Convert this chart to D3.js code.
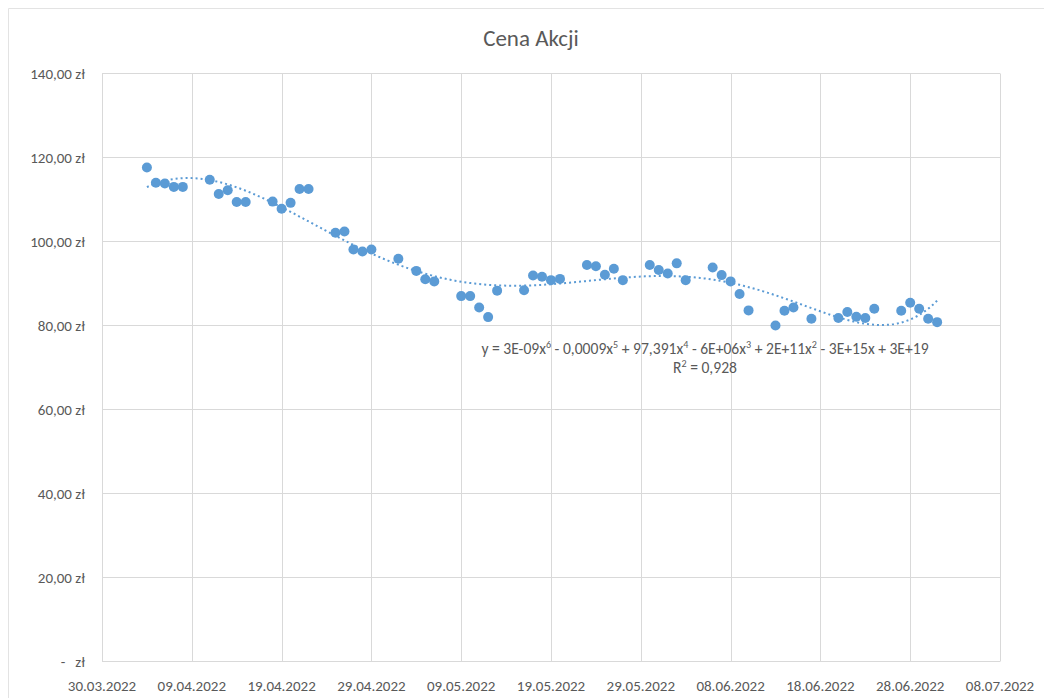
<!DOCTYPE html>
<html>
<head>
<meta charset="utf-8">
<script src="https://cdn.jsdelivr.net/npm/d3@7"></script>
<style>
  html, body { margin: 0; padding: 0; background: #fff; }
  svg { display: block; }
  text { font-family: Carlito, Calibri, Lato, "Open Sans", sans-serif; fill: #595959; }
</style>
</head>
<body>
<svg id="chart" width="1044" height="698"></svg>
<script>
// ---- data ----
const dates = [
  "2022-04-04","2022-04-05","2022-04-06","2022-04-07","2022-04-08",
  "2022-04-11","2022-04-12","2022-04-13","2022-04-14","2022-04-15",
  "2022-04-18","2022-04-19","2022-04-20","2022-04-21","2022-04-22",
  "2022-04-25","2022-04-26","2022-04-27","2022-04-28","2022-04-29",
  "2022-05-02","2022-05-04","2022-05-05","2022-05-06",
  "2022-05-09","2022-05-10","2022-05-11","2022-05-12","2022-05-13",
  "2022-05-16","2022-05-17","2022-05-18","2022-05-19","2022-05-20",
  "2022-05-23","2022-05-24","2022-05-25","2022-05-26","2022-05-27",
  "2022-05-30","2022-05-31","2022-06-01","2022-06-02","2022-06-03",
  "2022-06-06","2022-06-07","2022-06-08","2022-06-09","2022-06-10",
  "2022-06-13","2022-06-14","2022-06-15","2022-06-17",
  "2022-06-20","2022-06-21","2022-06-22","2022-06-23","2022-06-24",
  "2022-06-27","2022-06-28","2022-06-29","2022-06-30","2022-07-01"
];
const prices = [
  117.6,114.0,113.8,113.0,113.0,
  114.7,111.3,112.2,109.4,109.4,
  109.5,107.8,109.2,112.5,112.5,
  102.1,102.4,98.1,97.6,98.1,
  95.9,93.0,91.0,90.5,
  87.0,87.0,84.3,82.0,88.3,
  88.4,91.9,91.6,90.8,91.1,
  94.4,94.1,92.1,93.5,90.8,
  94.4,93.2,92.4,94.8,90.8,
  93.8,92.0,90.5,87.5,83.6,
  80.0,83.5,84.3,81.6,
  81.8,83.2,82.1,81.8,84.0,
  83.5,85.4,84.0,81.6,80.8
];
const xTickLabels = ["30.03.2022","09.04.2022","19.04.2022","29.04.2022","09.05.2022","19.05.2022","29.05.2022","08.06.2022","18.06.2022","28.06.2022","08.07.2022"];
const yTicks = [0,20,40,60,80,100,120,140];
const titleText = "Cena Akcji";
const eqParts = [["y = 3E-09x",""],["6","s"],[" - 0,0009x",""],["5","s"],[" + 97,391x",""],["4","s"],[" - 6E+06x",""],["3","s"],[" + 2E+11x",""],["2","s"],[" - 3E+15x + 3E+19",""]];
const r2Parts = [["R",""],["2","s"],[" = 0,928",""]];

// ---- setup ----
const svg = d3.select("#chart");
const parse = d3.utcParse("%Y-%m-%d");
const parseTick = d3.utcParse("%d.%m.%Y");
const data = dates.map((d,i) => ({date: parse(d), v: prices[i]}));
const tickDates = xTickLabels.map(parseTick);

const x = d3.scaleUtc().domain([tickDates[0], tickDates[tickDates.length-1]]).range([102, 1000]);
const y = d3.scaleLinear().domain([0, 140]).range([661.5, 73.5]);

const LBL = 15;

// outer frame (sheet border)
svg.append("line").attr("x1", 8.5).attr("x2", 8.5).attr("y1", 8.5).attr("y2", 698).attr("stroke", "#e3e3e3");
svg.append("line").attr("x1", 8.5).attr("x2", 1044).attr("y1", 8.5).attr("y2", 8.5).attr("stroke", "#e3e3e3");

// gridlines
const grid = svg.append("g");
grid.selectAll("line.h").data(yTicks).join("line")
  .attr("x1", x.range()[0]).attr("x2", x.range()[1])
  .attr("y1", d => y(d)).attr("y2", d => y(d))
  .attr("stroke", "#d9d9d9").attr("stroke-width", 1);
grid.selectAll("line.v").data(tickDates).join("line")
  .attr("x1", d => Math.round(x(d)) + 0.5).attr("x2", d => Math.round(x(d)) + 0.5)
  .attr("y1", y(0)).attr("y2", y(140))
  .attr("stroke", "#d9d9d9").attr("stroke-width", 1);

// y labels
const fmt = v => d3.format(".2f")(v).replace(".", ",") + " zł";
const yl = svg.append("g");
yTicks.forEach(v => {
  if (v === 0) {
    yl.append("text").attr("x", 63).attr("y", y(0) + 5).attr("text-anchor", "middle").attr("font-size", LBL).text("-");
    yl.append("text").attr("x", 85).attr("y", y(0) + 5).attr("text-anchor", "end").attr("font-size", LBL).text("zł");
  } else {
    yl.append("text").attr("x", 85).attr("y", y(v) + 5).attr("text-anchor", "end").attr("font-size", LBL).text(fmt(v));
  }
});

// x labels
svg.append("g").selectAll("text").data(tickDates).join("text")
  .attr("x", d => x(d)).attr("y", 691).attr("text-anchor", "middle").attr("font-size", LBL)
  .text((d,i) => xTickLabels[i]);

// title
svg.append("text").attr("x", 531).attr("y", 46).attr("text-anchor", "middle").attr("font-size", 23).text(titleText);

// polynomial trendline (order 6 least squares)
const t0 = data[0].date.getTime(), t1 = data[data.length-1].date.getTime();
const mid = (t0 + t1) / 2, half = (t1 - t0) / 2;
const norm = t => (t - mid) / half;
const deg = 6;
const A = Array.from({length: deg+1}, () => new Array(deg+2).fill(0));
data.forEach(p => {
  const u = norm(p.date.getTime());
  const pw = []; for (let k = 0; k <= 2*deg; k++) pw.push(Math.pow(u, k));
  for (let i = 0; i <= deg; i++) {
    for (let j = 0; j <= deg; j++) A[i][j] += pw[i+j];
    A[i][deg+1] += pw[i] * p.v;
  }
});
for (let i = 0; i <= deg; i++) {
  let m = i; for (let r = i+1; r <= deg; r++) if (Math.abs(A[r][i]) > Math.abs(A[m][i])) m = r;
  [A[i], A[m]] = [A[m], A[i]];
  for (let r = 0; r <= deg; r++) if (r !== i) {
    const f = A[r][i] / A[i][i];
    for (let c = i; c <= deg+1; c++) A[r][c] -= f * A[i][c];
  }
}
const coef = A.map((row, i) => row[deg+1] / row[i]);
const poly = u => coef.reduce((s, c, k) => s + c * Math.pow(u, k), 0);
const trend = d3.range(0, 201).map(i => { const t = t0 + (t1 - t0) * i / 200; return {date: new Date(t), v: poly(norm(t))}; });
svg.append("path").datum(trend)
  .attr("d", d3.line().x(d => x(d.date)).y(d => y(d.v)))
  .attr("fill", "none").attr("stroke", "#5b9bd5").attr("stroke-width", 2)
  .attr("stroke-dasharray", "2,3");

// points
svg.append("g").selectAll("circle").data(data).join("circle")
  .attr("cx", d => x(d.date)).attr("cy", d => y(d.v)).attr("r", 5)
  .attr("fill", "#5b9bd5");

// equation label
function richText(parts, cx, cy, size) {
  const t = svg.append("text").attr("x", cx).attr("y", cy).attr("text-anchor", "middle").attr("font-size", size);
  let prevSup = false;
  parts.forEach(([s, kind]) => {
    const sup = kind === "s";
    const dy = sup ? (prevSup ? 0 : -size * 0.38) : (prevSup ? size * 0.38 : 0);
    t.append("tspan").attr("dy", dy).attr("font-size", sup ? size * 0.65 : size).text(s);
    prevSup = sup;
  });
  return t;
}
richText(eqParts, 705, 354, 15.6);
richText(r2Parts, 705, 373, 15.6);
</script>
</body>
</html>
